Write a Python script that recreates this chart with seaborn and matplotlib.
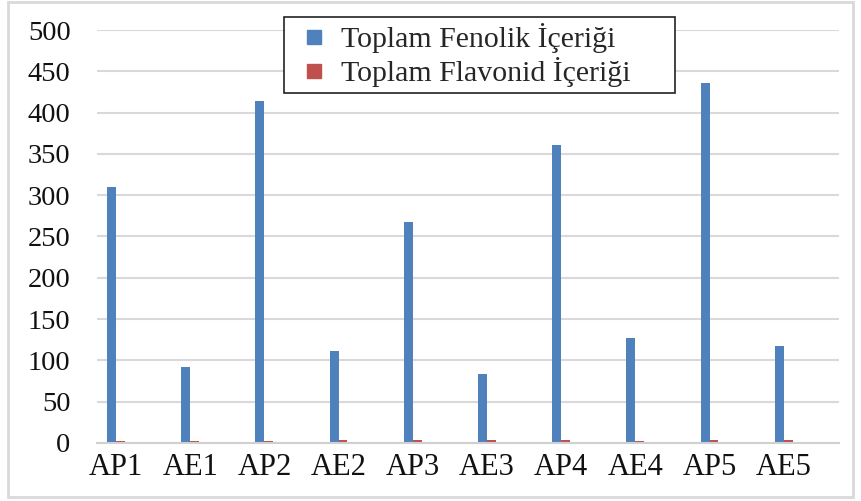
import matplotlib
matplotlib.use("Agg")
import matplotlib.pyplot as plt
import seaborn as sns
import pandas as pd
from matplotlib.patches import Rectangle
from matplotlib.lines import Line2D

categories = ["AP1", "AE1", "AP2", "AE2", "AP3", "AE3", "AP4", "AE4", "AP5", "AE5"]
fenolik = [310, 92, 414, 111, 268, 83, 361, 127, 436, 117]
flavonid = [2.5, 2.2, 2.5, 3.5, 3.5, 3.5, 3.5, 2.0, 3.8, 3.5]
series_names = ["Toplam Fenolik İçeriği", "Toplam Flavonid İçeriği"]
colors = ["#4F81BD", "#C0504D"]
yticks = [0, 50, 100, 150, 200, 250, 300, 350, 400, 450, 500]

df = pd.DataFrame({
    "cat": categories * 2,
    "val": fenolik + flavonid,
    "series": [series_names[0]] * len(categories) + [series_names[1]] * len(categories),
})

sns.set_theme(style="white")
plt.rcParams["font.family"] = ["Liberation Serif", "DejaVu Serif"]

fig = plt.figure(figsize=(8.61, 5.01), dpi=100)
ax = fig.add_axes([97 / 861, 1 - 443 / 501, (839 - 97) / 861, (443 - 30) / 501])

sns.barplot(data=df, x="cat", y="val", hue="series", order=categories,
            hue_order=series_names, palette=colors,
            width=0.24, dodge=True, gap=0, ax=ax, legend=False,
            saturation=1, linewidth=0)

ax.set_xlim(-0.256, 9.744)
ax.set_ylim(0, 500)
ax.set_yticks(yticks)
ax.set_yticklabels([str(v) for v in yticks], fontsize=20.5, color="#111111")
ax.tick_params(axis="y", length=0, pad=19)
ax.tick_params(axis="x", length=0, pad=7, labelsize=22, labelcolor="#111111")
ax.set_xlabel("")
ax.set_ylabel("")
ax.yaxis.grid(True, color="#d9d9d9", linewidth=1.5)
ax.set_axisbelow(True)
for s in ["top", "right", "left"]:
    ax.spines[s].set_visible(False)
ax.spines["bottom"].set_color("#d0d0d0")
ax.spines["bottom"].set_linewidth(1.5)

handles = [Line2D([], [], marker="s", linestyle="", markersize=10.5,
                  markerfacecolor=c, markeredgecolor=c) for c in colors]
leg = fig.legend(handles, series_names, loc="upper left",
                 bbox_to_anchor=(284 / 861, 1 - 17 / 501, 391 / 861, 0.0),
                 mode="expand",
                 frameon=True, fancybox=False, edgecolor="#222222",
                 facecolor="white", framealpha=1, fontsize=21.5,
                 handlelength=1.6, handletextpad=0.1,
                 borderpad=0.2, labelspacing=0.15, borderaxespad=0)
leg.get_frame().set_linewidth(1.2)

fig.patches.append(Rectangle((8 / 861, 4 / 501), (853 - 8) / 861, (500 - 5) / 501,
                             transform=fig.transFigure, fill=False,
                             edgecolor="#d9d9d9", linewidth=2))

fig.savefig("out.png", dpi=100)
